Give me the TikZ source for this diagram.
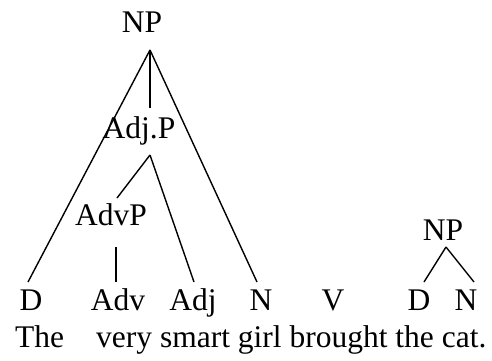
\documentclass[tikz,border=0pt]{standalone}
\usepackage{fontspec}
\setmainfont{Liberation Serif}
\begin{document}
\begin{tikzpicture}[x=1pt,y=-1pt,
  lab/.style={anchor=base,inner sep=0pt,font=\fontsize{31.5}{36}\selectfont},
  word/.style={anchor=base west,inner sep=0pt,font=\fontsize{31.5}{36}\selectfont},
  branch/.style={line width=1.4pt}]
\useasboundingbox (0,0) rectangle (492,360);
% category labels
\node[lab] (np) at (142,32) {NP};
\node[lab] (adjp) at (139,138) {Adj.P};
\node[lab] (advp) at (111,225) {AdvP};
\node[lab] (d) at (31,310) {D};
\node[lab] (adv) at (118,310) {Adv};
\node[lab] (adj) at (193,310) {Adj};
\node[lab] (n) at (261,310) {N};
\node[lab] (v) at (333,310) {V};
\node[lab] (d2) at (419,310) {D};
\node[lab] (n2) at (466,310) {N};
\node[lab] (np2) at (443,240) {NP};
% sentence
\node[word] (w1) at (15,347) {The};
\node[word] (w2) at (96,347) {very smart girl brought the cat.};
% branch end points
\coordinate (npfoot) at (150,50);
\coordinate (adjphead) at (150,108);
\coordinate (adjpfoot) at (150,155);
\coordinate (advphead) at (117,198);
\coordinate (advpfoot) at (116,247);
\coordinate (dhead) at (28,282);
\coordinate (advhead) at (116,282);
\coordinate (adjhead) at (194,282);
\coordinate (nhead) at (257,282);
\coordinate (np2foot) at (446,247);
\coordinate (d2head) at (424,282);
\coordinate (n2head) at (474,282);
% branches
\draw[branch] (npfoot) -- (dhead);
\draw[branch] (npfoot) -- (adjphead);
\draw[branch] (npfoot) -- (nhead);
\draw[branch] (adjpfoot) -- (advphead);
\draw[branch] (adjpfoot) -- (adjhead);
\draw[branch] (advpfoot) -- (advhead);
\draw[branch] (np2foot) -- (d2head);
\draw[branch] (np2foot) -- (n2head);
\end{tikzpicture}
\end{document}
